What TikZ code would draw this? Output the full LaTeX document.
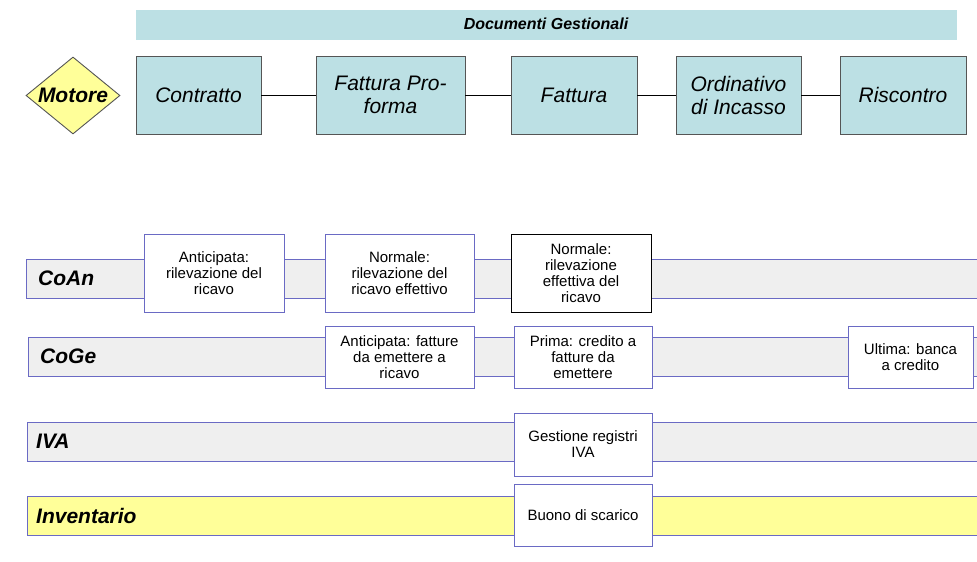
\documentclass[tikz,border=0pt]{standalone}
\usepackage{fontspec}
\setmainfont{Liberation Sans}
\usetikzlibrary{shapes.geometric}
\definecolor{docteal}{HTML}{BCE0E4}
\definecolor{docgray}{HTML}{555555}
\definecolor{laneblue}{HTML}{6A6AC4}
\definecolor{lanegray}{HTML}{EFEFEF}
\definecolor{laneyellow}{HTML}{FFFF99}
\tikzset{
	docbox/.style={draw=docgray, fill=docteal, line width=0.9pt, minimum height=78pt, inner sep=0pt, align=center, font=\fontsize{21}{23}\selectfont\itshape},
	lanebar/.style={draw=laneblue, fill=lanegray, line width=0.9pt},
	lanelabel/.style={anchor=west, inner sep=0pt, font=\fontsize{21}{24}\selectfont\bfseries\itshape},
	notebox/.style={draw=laneblue, fill=white, line width=0.9pt, inner sep=0pt, align=center, font=\fontsize{15}{16}\selectfont}
}
\begin{document}
\begin{tikzpicture}[x=1pt, y=-1pt]
		%%%%% START %%%%%
		\useasboundingbox (0, 0) rectangle (977, 562);
		
		\fill[docteal] (136, 10) rectangle (957, 40);
		\node[font=\fontsize{16}{18}\selectfont\bfseries\itshape] (title) at (546, 24) {Documenti Gestionali};
		
		\node[diamond, draw=docgray, fill=laneyellow, line width=0.9pt, minimum width=94pt, minimum height=77pt, inner sep=0pt] (motore) at (73, 95.5) {};
		\node[font=\fontsize{21}{24}\selectfont\bfseries\itshape, inner sep=0pt] (motoretext) at (motore) {Motore};
		
		\node[docbox, minimum width=125pt] (contratto) at (198.5, 95) {Contratto};
		\node[docbox, minimum width=149pt] (proforma) at (390.5, 95) {Fattura Pro-\\forma};
		\node[docbox, minimum width=126pt] (fattura) at (574, 95) {Fattura};
		\node[docbox, minimum width=125pt] (ordinativo) at (738.5, 95) {Ordinativo\\di Incasso};
		\node[docbox, minimum width=126pt] (riscontro) at (903, 95) {Riscontro};
		
		\draw[line width=0.9pt] (contratto) -- (proforma);
		\draw[line width=0.9pt] (proforma) -- (fattura);
		\draw[line width=0.9pt] (fattura) -- (ordinativo);
		\draw[line width=0.9pt] (ordinativo) -- (riscontro);
		
		\draw[lanebar] (26, 259) rectangle (985, 298);
		\node[lanelabel] (coan) at (38, 278.5) {CoAn};
		\draw[lanebar] (28, 337) rectangle (985, 376);
		\node[lanelabel] (coge) at (40, 356.5) {CoGe};
		\draw[lanebar] (27, 422) rectangle (985, 461);
		\node[lanelabel] (iva) at (36, 441.5) {IVA};
		\draw[lanebar, fill=laneyellow] (27, 496) rectangle (985, 535);
		\node[lanelabel] (inventario) at (36, 515.5) {Inventario};
		
		\node[notebox, minimum width=140pt, minimum height=78pt] (coan1) at (214, 273) {Anticipata:\\rilevazione del\\ricavo};
		\node[notebox, minimum width=149pt, minimum height=78pt] (coan2) at (399.5, 273) {Normale:\\rilevazione del\\ricavo effettivo};
		\node[notebox, draw=black, minimum width=140pt, minimum height=78pt] (coan3) at (581, 273) {Normale:\\rilevazione\\effettiva del\\ricavo};
		
		\node[notebox, minimum width=149pt, minimum height=62pt] (coge1) at (399.5, 357) {Anticipata: fatture\\da emettere a\\ricavo};
		\node[notebox, minimum width=138pt, minimum height=62pt] (coge2) at (583, 357) {Prima: credito a\\fatture da\\emettere};
		\node[notebox, minimum width=125pt, minimum height=62pt] (coge3) at (910.5, 357) {Ultima: banca\\a credito};
		
		\node[notebox, minimum width=138pt, minimum height=63pt] (iva1) at (583, 444.5) {Gestione registri\\IVA};
		\node[notebox, minimum width=138pt, minimum height=62pt] (inv1) at (583, 515) {Buono di scarico};
		%%%%% END %%%%%
\end{tikzpicture}
\end{document}
